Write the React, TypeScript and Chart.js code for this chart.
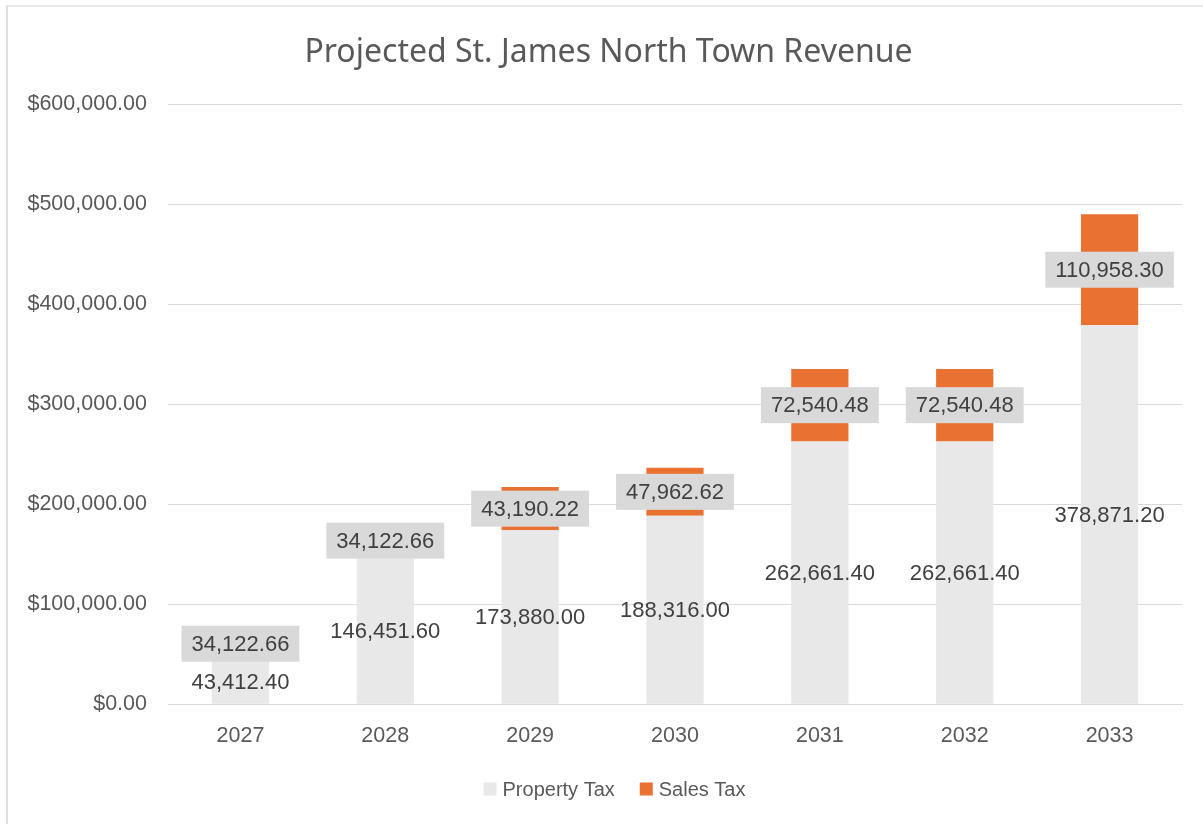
import React, { useEffect, useRef } from "react";
import { Chart, registerables } from "chart.js";

Chart.register(...registerables);

const titleText = "Projected St. James North Town Revenue";
const years = ["2027", "2028", "2029", "2030", "2031", "2032", "2033"];
const propertyTax = [43412.4, 146451.6, 173880.0, 188316.0, 262661.4, 262661.4, 378871.2];
const salesTax = [34122.66, 34122.66, 43190.22, 47962.62, 72540.48, 72540.48, 110958.3];
const yTicks = [0, 100000, 200000, 300000, 400000, 500000, 600000];

const fmtNum = (v: number) =>
  v.toLocaleString("en-US", { minimumFractionDigits: 2, maximumFractionDigits: 2 });

const FONT = "'Liberation Sans', Arial, sans-serif";

const titleLegendPlugin = {
  id: "customTitleLegend",
  afterDraw(chart: any) {
    const ctx = chart.ctx;
    ctx.save();
    ctx.font = "32px 'Noto Sans', sans-serif";
    ctx.fillStyle = "#595959";
    ctx.textAlign = "center";
    ctx.textBaseline = "alphabetic";
    ctx.fillText(titleText, 608.5, 62);

    // legend
    ctx.font = "20px " + FONT;
    ctx.textAlign = "left";
    ctx.textBaseline = "middle";
    const box = 13;
    const gap = 6;
    const spacing = 25;
    const items = chart.data.datasets.map((ds: any) => ({
      label: ds.label as string,
      color: ds.backgroundColor as string,
      w: ctx.measureText(ds.label).width,
    }));
    const total =
      items.reduce((a: number, it: any) => a + box + gap + it.w, 0) + spacing * (items.length - 1);
    let x = 614.5 - total / 2;
    const cy = 789;
    items.forEach((it: any) => {
      ctx.fillStyle = it.color;
      ctx.fillRect(x, cy - box / 2, box, box);
      x += box + gap;
      ctx.fillStyle = "#595959";
      ctx.fillText(it.label, x, cy + 1);
      x += it.w + spacing;
    });
    ctx.restore();
  },
};

const labelPlugin = {
  id: "barLabels",
  afterDatasetsDraw(chart: any) {
    const ctx = chart.ctx;
    ctx.save();
    ctx.font = "22px " + FONT;
    ctx.textAlign = "center";
    ctx.textBaseline = "middle";
    chart.data.datasets.forEach((ds: any, di: number) => {
      const meta = chart.getDatasetMeta(di);
      meta.data.forEach((bar: any, i: number) => {
        const v = ds.data[i] as number;
        const text = fmtNum(v);
        const cy = (bar.y + bar.base) / 2;
        if (di === 1) {
          const w = ctx.measureText(text).width + 20;
          const h = 36;
          ctx.fillStyle = "#d9d9d9";
          ctx.fillRect(bar.x - w / 2, cy - h / 2, w, h);
        }
        ctx.fillStyle = "#404040";
        ctx.fillText(text, bar.x, cy + 1);
      });
    });
    ctx.restore();
  },
};

export default function App() {
  const ref = useRef<HTMLCanvasElement | null>(null);
  useEffect(() => {
    if (!ref.current) return;
    const chart = new Chart(ref.current, {
      type: "bar",
      data: {
        labels: years,
        datasets: [
          {
            label: "Property Tax",
            data: propertyTax,
            backgroundColor: "#e8e8e8",
            categoryPercentage: 1,
            barPercentage: 0.395,
          },
          {
            label: "Sales Tax",
            data: salesTax,
            backgroundColor: "#e97132",
            categoryPercentage: 1,
            barPercentage: 0.395,
          },
        ],
      },
      options: {
        animation: false,
        responsive: false,
        maintainAspectRatio: false,
        layout: { padding: { top: 104, right: 21, bottom: 64, left: 0 } },
        plugins: {
          title: { display: false },
          legend: { display: false },
          tooltip: { enabled: false },
        },
        scales: {
          x: {
            stacked: true,
            grid: { display: false },
            border: { color: "#d9d9d9", width: 1 },
            ticks: {
              color: "#595959",
              font: { family: FONT, size: 21.5 },
              padding: 11,
            },
          },
          y: {
            stacked: true,
            min: 0,
            max: 600000,
            afterFit: (s: any) => {
              s.width = 168;
            },
            afterBuildTicks: (s: any) => {
              s.ticks = yTicks.map((v) => ({ value: v }));
            },
            grid: { color: "#d9d9d9", drawTicks: false },
            border: { display: false },
            ticks: {
              color: "#595959",
              font: { family: FONT, size: 21.5 },
              padding: 21,
              callback: (v: any) => "$" + fmtNum(Number(v)),
            },
          },
        },
      },
      plugins: [labelPlugin, titleLegendPlugin],
    });
    return () => chart.destroy();
  }, []);

  return (
    <div style={{ position: "fixed", left: 0, top: 0, width: 1203, height: 824, background: "#fff" }}>
      <div
        style={{
          position: "absolute",
          left: 6,
          top: 5,
          right: 0,
          bottom: 0,
          borderLeft: "2px solid #e0e0e0",
          borderTop: "2px solid #e8e8e8",
        }}
      />
      <canvas ref={ref} width={1203} height={824} style={{ position: "absolute", left: 0, top: 0 }} />
    </div>
  );
}
